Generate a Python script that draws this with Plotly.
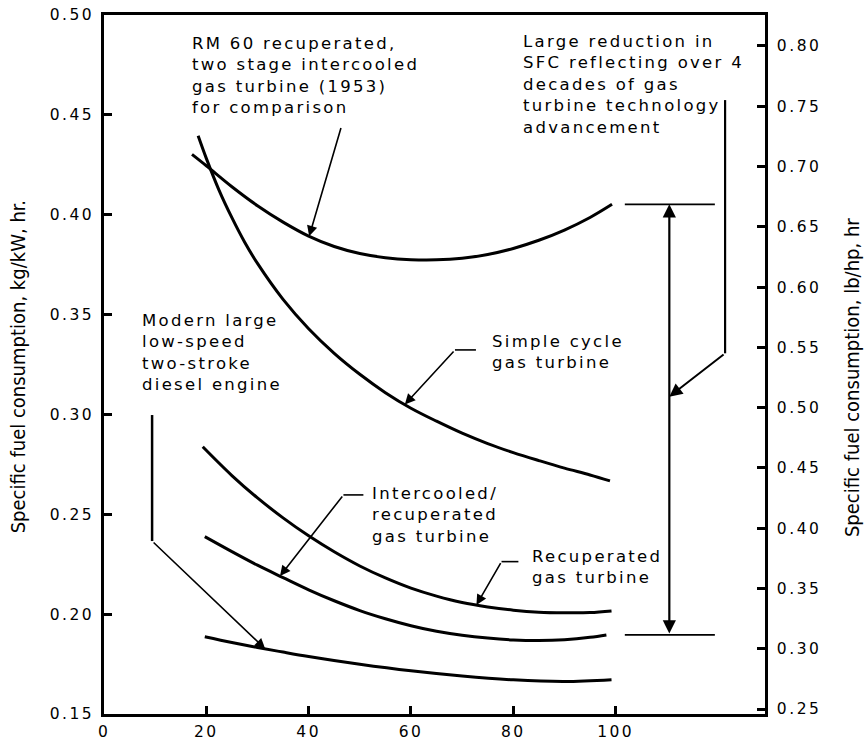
import numpy as np
import plotly.graph_objects as go

# ---------------------------------------------------------------------------
# Specific fuel consumption (kg/kW.h) versus percent of rated load
# ---------------------------------------------------------------------------
load_rm60 = [17.2, 20, 25, 30, 35, 40, 45, 50, 55, 60, 65, 70, 75, 80, 85, 90, 95, 99.3]
sfc_rm60 = [0.4302, 0.4245, 0.4140, 0.4045, 0.3963, 0.3893, 0.3841, 0.3806, 0.3785, 0.3775,
            0.3774, 0.3782, 0.3801, 0.3831, 0.3872, 0.3923, 0.3986, 0.4052]

load_simple = [18.4, 20, 22.5, 25, 27.5, 30, 35, 40, 45, 50, 55, 60, 65, 70, 75, 80, 85, 90, 95, 98.9]
sfc_simple = [0.4395, 0.4282, 0.4122, 0.3985, 0.3862, 0.3756, 0.3576, 0.3429, 0.3306, 0.3201,
              0.3109, 0.3031, 0.2966, 0.2906, 0.2854, 0.2809, 0.2769, 0.2731, 0.2697, 0.2667]

load_recup = [19.3, 25, 30, 35, 40, 45, 50, 55, 60, 65, 70, 75, 80, 85, 90, 95, 99.2]
sfc_recup = [0.2838, 0.2694, 0.2582, 0.2482, 0.2392, 0.2312, 0.2241, 0.2181, 0.2130, 0.2090,
             0.2058, 0.2036, 0.2020, 0.2010, 0.2007, 0.2008, 0.2016]

load_icr = [19.7, 25, 30, 35, 40, 45, 50, 55, 60, 65, 70, 75, 80, 85, 90, 95, 98.2]
sfc_icr = [0.2388, 0.2313, 0.2245, 0.2183, 0.2122, 0.2067, 0.2018, 0.1977, 0.1942, 0.1914,
           0.1894, 0.1880, 0.1871, 0.1868, 0.1872, 0.1884, 0.1896]

load_diesel = [19.7, 25, 30, 35, 40, 50, 60, 70, 80, 90, 99.2]
sfc_diesel = [0.1887, 0.1858, 0.1833, 0.1810, 0.1788, 0.1749, 0.1716, 0.1690, 0.1671, 0.1663, 0.1672]

# Axis ticks
x_ticks = [0, 20, 40, 60, 80, 100]
kg_ticks = [0.15, 0.20, 0.25, 0.30, 0.35, 0.40, 0.45, 0.50]
lb_ticks = [0.25, 0.30, 0.35, 0.40, 0.45, 0.50, 0.55, 0.60, 0.65, 0.70, 0.75, 0.80]

X_RANGE = [0, 129.2]
KG_RANGE = [0.15, 0.50]
LB_RANGE = [0.2459, 0.8257]

TEXT_FONT = "DejaVu Sans, Liberation Sans, Arial, sans-serif"
TITLE_FONT = "Liberation Sans Narrow, DejaVu Sans Condensed, Arial Narrow, Liberation Sans, sans-serif"
INK = "#000000"


def spaced(s, px):
    return f'<span style="letter-spacing:{px}px">{s}</span>'


def block(lines, px=2.3):
    return "<br>".join(spaced(s, px) for s in lines)


def on_curve(xs, ys, x):
    return float(np.interp(x, xs, ys))


fig = go.Figure()

curves = [
    (load_rm60, sfc_rm60),
    (load_simple, sfc_simple),
    (load_recup, sfc_recup),
    (load_icr, sfc_icr),
    (load_diesel, sfc_diesel),
]
for xs, ys in curves:
    fig.add_trace(go.Scatter(
        x=xs, y=ys, mode="lines",
        line=dict(color=INK, width=3, shape="spline", smoothing=1.0),
        showlegend=False, hoverinfo="skip",
    ))

# keeps the right-hand (lb/hp.hr) axis alive
fig.add_trace(go.Scatter(x=[None], y=[None], yaxis="y2", showlegend=False, hoverinfo="skip"))

# ---------------------------------------------------------------------------
# Callout labels
# ---------------------------------------------------------------------------
labels = [
    (["RM 60 recuperated,", "two stage intercooled", "gas turbine (1953)", "for comparison"], 16.8, 0.4695),
    (["Large reduction in", "SFC reflecting over 4", "decades of gas", "turbine technology", "advancement"], 81.5, 0.4654),
    (["Modern large", "low-speed", "two-stroke", "diesel engine"], 7.0, 0.331),
    (["Simple cycle", "gas turbine"], 75.4, 0.3313),
    (["Intercooled/", "recuperated", "gas turbine"], 52.0, 0.2497),
    (["Recuperated", "gas turbine"], 83.3, 0.2234),
]
for lines, lx, ly in labels:
    fig.add_annotation(
        x=lx, y=ly, xref="x", yref="y", text=block(lines),
        showarrow=False, xanchor="left", yanchor="middle", align="left",
        font=dict(family=TEXT_FONT, size=16.5, color=INK),
    )


def arrow(tip_x, tip_y, tail_x, tail_y, width=1.6):
    fig.add_annotation(
        x=tip_x, y=tip_y, ax=tail_x, ay=tail_y,
        xref="x", yref="y", axref="x", ayref="y",
        text="", showarrow=True, arrowhead=2, arrowsize=1.3,
        arrowwidth=width, arrowcolor=INK, standoff=0, startstandoff=0,
    )


def segment(x0, y0, x1, y1, width=1.6):
    fig.add_shape(type="line", x0=x0, y0=y0, x1=x1, y1=y1, xref="x", yref="y",
                  line=dict(color=INK, width=width))


# RM 60 leader
arrow(40.1, on_curve(load_rm60, sfc_rm60, 40.1), 46.4, 0.4442)

# Simple cycle leader
segment(72.7, 0.3323, 68.6, 0.3323)
arrow(58.8, on_curve(load_simple, sfc_simple, 58.8), 68.6, 0.3323)

# Intercooled / recuperated leader
segment(50.7, 0.2597, 46.8, 0.2597)
arrow(34.4, on_curve(load_icr, sfc_icr, 34.4), 46.8, 0.2597)

# Recuperated leader
segment(81.0, 0.2263, 77.7, 0.2263)
arrow(72.8, on_curve(load_recup, sfc_recup, 72.8), 77.7, 0.2263)

# Diesel leader
segment(9.4, 0.2997, 9.4, 0.2366, width=2.5)
arrow(31.5, on_curve(load_diesel, sfc_diesel, 31.5), 9.4, 0.2366)

# SFC reduction span at full load
span_top = sfc_rm60[-1]
span_bottom = sfc_icr[-1]
span_x = 110.5
segment(101.8, span_top, 119.4, span_top, width=1.8)
segment(101.8, span_bottom, 119.4, span_bottom, width=1.8)
fig.add_annotation(
    x=span_x, y=span_top, ax=span_x, ay=span_bottom,
    xref="x", yref="y", axref="x", ayref="y",
    text="", showarrow=True, arrowhead=2, arrowside="end+start",
    arrowsize=1.2, arrowwidth=2.2, arrowcolor=INK, standoff=0, startstandoff=0,
)
segment(121.4, 0.4574, 121.4, 0.3306, width=2.2)
arrow(span_x, 0.3089, 121.4, 0.3306, width=2.0)

# Axis titles
fig.add_annotation(
    x=-0.130, y=0.496, xref="paper", yref="paper", textangle=-90,
    text="Specific fuel consumption, kg/kW, hr.", showarrow=False,
    xanchor="center", yanchor="middle",
    font=dict(family=TITLE_FONT, size=20, color=INK),
)
fig.add_annotation(
    x=1.1316, y=0.482, xref="paper", yref="paper", textangle=-90,
    text="Specific fuel consumption, lb/hp, hr", showarrow=False,
    xanchor="center", yanchor="middle",
    font=dict(family=TITLE_FONT, size=20, color=INK),
)

tick_font = dict(family=TEXT_FONT, size=15.5, color=INK)
axis_common = dict(
    showline=True, linecolor=INK, linewidth=2.5,
    ticks="inside", ticklen=8, tickwidth=2.5, tickcolor=INK,
    showgrid=False, zeroline=False, tickfont=tick_font,
    fixedrange=True, automargin=False,
)

fig.update_layout(
    width=867, height=740,
    margin=dict(l=104, r=102, t=15, b=26, autoexpand=False),
    paper_bgcolor="white", plot_bgcolor="white",
    showlegend=False,
    xaxis=dict(
        range=X_RANGE, tickvals=x_ticks,
        ticktext=[spaced(str(v), 2.4) for v in x_ticks],
        mirror=True, ticklabelstandoff=2, **axis_common,
    ),
    yaxis=dict(
        range=KG_RANGE, tickvals=kg_ticks,
        ticktext=[spaced(f"{v:.2f}", 2.5) for v in kg_ticks],
        ticklabelstandoff=4, **axis_common,
    ),
    yaxis2=dict(
        range=LB_RANGE, tickvals=lb_ticks, overlaying="y", side="right",
        ticktext=[spaced(f"{v:.2f}", 2.5) for v in lb_ticks],
        ticklabelstandoff=6, anchor="x", **axis_common,
    ),
)

fig.write_html("out.html")
